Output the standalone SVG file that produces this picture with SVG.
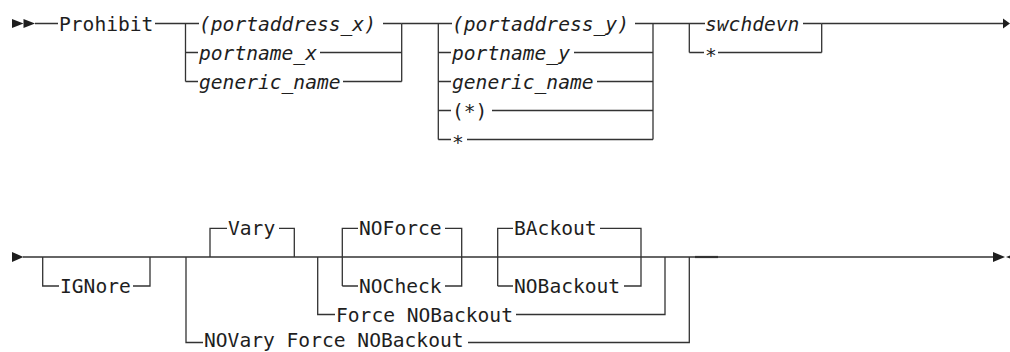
<svg xmlns="http://www.w3.org/2000/svg" width="1010" height="352" viewBox="0 0 1010 352">
<style>
.t{font-family:"DejaVu Sans Mono","Liberation Mono",monospace;font-size:19.6px;fill:#1e1e1e}
.i{font-style:italic}
.c path{fill:none;stroke:#333;stroke-width:1.3}
.a{fill:#1e1e1e}
</style>
<rect width="1010" height="352" fill="#fff"/>
<g id="connectors" class="c">
<!-- row 1 -->
<path d="M35 23.5H58M155 23.5H199"/>
<path d="M185.5 23.5V81.5M185.5 52.5H198M185.5 81.5H198"/>
<path d="M383 23.5H401.7M320 52.5H401.7M343 81.5H401.7M401.7 23.5V81.5"/>
<path d="M401.7 23.5H452M438.3 23.5V139.5M438.3 52.5H451M438.3 81.5H451M438.3 110.5H451M438.3 139.5H451"/>
<path d="M635 23.5H653M574 52.5H653M597 81.5H653M492 110.5H653M467 139.5H653M653 23.5V139.5"/>
<path d="M653 23.5H705M689.3 23.5V52.5M689.3 52.5H704"/>
<path d="M803 23.5H821.7M718 52.5H821.7M821.7 23.5V52.5"/>
<path d="M821.7 23.5H1003"/>
<!-- row 2 -->
<path d="M23 257H993"/>
<path d="M42.7 257V286H59M133 286H150V257"/>
<path d="M186 257V342.5H203M468 342.5H689.3V257"/>
<path d="M210 257V228.3H227M279 228.3H294.3V257"/>
<path d="M317.7 257V314.5H335M516 314.5H665V257"/>
<path d="M342.3 286V228.3H358M445 228.3H461.7V286H445M342.3 286H358"/>
<path d="M497.7 286V228.3H513M600 228.3H641V286H624M497.7 286H513"/>
<path d="M695 257H718" style="stroke-width:2.2"/>
</g>
<g id="markers">
<polygon class="a" points="12,19 23.5,23.5 12,28"/>
<polygon class="a" points="23.5,19 35,23.5 23.5,28"/>
<polygon class="a" points="1003,18.5 1010,23.5 1003,28.5"/>
<polygon class="a" points="12,252 23.5,257 12,262"/>
<polygon class="a" points="993,252 1005,257 993,262"/>
<polygon class="a" points="1006,257 1016,253 1016,261"/>
</g>
<g id="n-prohibit"><text class="t" x="59" y="30.5">Prohibit</text></g>
<g id="n-portaddress_x"><text class="t i" x="199" y="30.5">(portaddress_x)</text></g>
<g id="n-portname_x"><text class="t i" x="199" y="59.5">portname_x</text></g>
<g id="n-generic_name_x"><text class="t i" x="199" y="88.5">generic_name</text></g>
<g id="n-portaddress_y"><text class="t i" x="452" y="30.5">(portaddress_y)</text></g>
<g id="n-portname_y"><text class="t i" x="452" y="59.5">portname_y</text></g>
<g id="n-generic_name_y"><text class="t i" x="452" y="88.5">generic_name</text></g>
<g id="n-paren-star"><text class="t" x="452" y="117.5">(*)</text></g>
<g id="n-star-y"><text class="t" x="452" y="149">*</text></g>
<g id="n-swchdevn"><text class="t i" x="705" y="30.5">swchdevn</text></g>
<g id="n-star-sw"><text class="t" x="705" y="62">*</text></g>
<g id="n-ignore"><text class="t" x="60" y="293">IGNore</text></g>
<g id="n-vary"><text class="t" x="228" y="235.3">Vary</text></g>
<g id="n-noforce"><text class="t" x="359" y="235.3">NOForce</text></g>
<g id="n-nocheck"><text class="t" x="359" y="293">NOCheck</text></g>
<g id="n-backout"><text class="t" x="514" y="235.3">BAckout</text></g>
<g id="n-nobackout"><text class="t" x="514" y="293">NOBackout</text></g>
<g id="n-force-nobackout"><text class="t" x="336" y="321.5">Force NOBackout</text></g>
<g id="n-novary"><text class="t" x="204" y="347.2">NOVary Force NOBackout</text></g>
</svg>
